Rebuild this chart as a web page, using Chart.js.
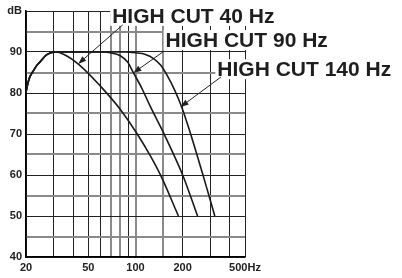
<!DOCTYPE html>
<html>
<head>
<meta charset="utf-8">
<script src="https://cdn.jsdelivr.net/npm/chart.js@4.4.0/dist/chart.umd.min.js"></script>
<style>
  html, body { margin: 0; padding: 0; background: #fff; }
</style>
</head>
<body>
<canvas id="chart" width="402" height="278"></canvas>
<script>
// ------------------ data (Hz / dB) ------------------
// rising part shared by all three curves
var riseFreq = [20, 20.6, 21.2, 22.2, 23.5, 24.6, 27, 30.7];
var riseDb = [80.2, 82.5, 84, 85.3, 86.8, 87.6, 89.3, 90];

var cut40Freq = [35, 44.3, 59.3, 80, 102.6, 124.7, 144.8, 188];
var cut40Db = [89.4, 86.7, 81.8, 76, 70, 64.6, 59.9, 50];

var cut90Freq = [50, 62.2, 71.2, 80, 88.8, 97.1, 109.6, 124.7, 151.3, 200, 249];
var cut90Db = [90, 90, 89.7, 89.1, 87.6, 84.9, 81.2, 76.6, 70.2, 60, 50];

var cut140Freq = [50, 86.2, 99.9, 115.8, 130.4, 144.6, 160.2, 177.8, 197.1, 218.5, 242.4, 268.7, 293.6, 320.8];
var cut140Db = [90, 90, 89.8, 89.4, 88.4, 86.8, 84.1, 80.7, 76.6, 71.5, 65.9, 60.2, 55.1, 50];

// axis ticks
var freqTicks = [20, 30, 40, 50, 60, 70, 80, 90, 100, 150, 200, 300, 400, 500];
var freqLabels = { 20: '20', 50: '50', 100: '100', 200: '200', 500: '500Hz' };
var dbTicks = [40, 45, 50, 55, 60, 65, 70, 75, 80, 85, 90, 95, 100];

// labels + arrows, placed in Hz / dB
var noteText = ['HIGH CUT 40 Hz', 'HIGH CUT 90 Hz', 'HIGH CUT 140 Hz'];
var noteAt = [[71, 97.1], [155.7, 91.2], [333, 84.1]];
var arrowFrom = [[82.8, 96.6], [149.5, 90], [351, 83.9]];
var arrowTo = [[43.1, 87.1], [97, 84.9], [194, 76.6]];

// ----------------------------------------------------
function points(fs, ds) {
  var f = riseFreq.concat(fs), d = riseDb.concat(ds);
  return f.map(function (v, i) { return { x: v, y: d[i] }; });
}

function curve(fs, ds) {
  return {
    data: points(fs, ds),
    borderColor: '#1a1a1a',
    borderWidth: 1.6,
    pointRadius: 0,
    fill: false,
    cubicInterpolationMode: 'monotone'
  };
}

var faintX = [70, 80, 100, 150];

var notes = {
  id: 'notes',
  afterDraw: function (chart) {
    var ctx = chart.ctx, xs = chart.scales.x, ys = chart.scales.y;
    ctx.save();
    ctx.font = 'bold 21px "Liberation Sans", Arial, sans-serif';
    ctx.textBaseline = 'alphabetic';

    // white boxes hide the grid behind the text
    noteText.forEach(function (t, i) {
      var x = xs.getPixelForValue(noteAt[i][0]), y = ys.getPixelForValue(noteAt[i][1]);
      var w = ctx.measureText(t).width;
      ctx.fillStyle = '#fff';
      ctx.fillRect(x - 2, y - 17, w + 4, 20);
    });

    // arrows
    ctx.strokeStyle = '#222';
    ctx.fillStyle = '#222';
    ctx.lineWidth = 1;
    arrowFrom.forEach(function (a, i) {
      var x0 = xs.getPixelForValue(a[0]), y0 = ys.getPixelForValue(a[1]);
      var x1 = xs.getPixelForValue(arrowTo[i][0]), y1 = ys.getPixelForValue(arrowTo[i][1]);
      var ang = Math.atan2(y1 - y0, x1 - x0);
      var c = Math.cos(ang), s = Math.sin(ang);
      ctx.beginPath();
      ctx.moveTo(x0, y0);
      ctx.lineTo(x1 - 6 * c, y1 - 6 * s);
      ctx.stroke();
      ctx.beginPath();
      ctx.moveTo(x1, y1);
      ctx.lineTo(x1 - 8 * c + 3 * s, y1 - 8 * s - 3 * c);
      ctx.lineTo(x1 - 8 * c - 3 * s, y1 - 8 * s + 3 * c);
      ctx.closePath();
      ctx.fill();
    });

    ctx.fillStyle = '#1e1e1e';
    noteText.forEach(function (t, i) {
      ctx.fillText(t, xs.getPixelForValue(noteAt[i][0]), ys.getPixelForValue(noteAt[i][1]));
    });
    ctx.restore();
  }
};

var tickFont = { family: '"Liberation Sans", Arial, sans-serif', size: 11, weight: 'bold' };

new Chart(document.getElementById('chart'), {
  type: 'line',
  data: {
    datasets: [
      curve(cut40Freq, cut40Db),
      curve(cut90Freq, cut90Db),
      curve(cut140Freq, cut140Db)
    ]
  },
  options: {
    responsive: false,
    animation: false,
    layout: { padding: { left: 0, top: 11, right: 157, bottom: 0 } },
    plugins: { legend: { display: false }, tooltip: { enabled: false } },
    scales: {
      x: {
        type: 'logarithmic',
        min: 20,
        max: 500,
        afterBuildTicks: function (scale) {
          scale.ticks = freqTicks.map(function (v) { return { value: v }; });
        },
        afterFit: function (scale) { scale.height = 21; },
        border: { color: '#000', width: 1.5 },
        grid: {
          drawTicks: false,
          color: function (ctx) {
            return faintX.indexOf(ctx.tick && ctx.tick.value) >= 0 ? '#8a8a8a' : '#222';
          },
          lineWidth: function (ctx) {
            return faintX.indexOf(ctx.tick && ctx.tick.value) >= 0 ? 2 : 1;
          }
        },
        ticks: {
          autoSkip: false,
          maxRotation: 0,
          minRotation: 0,
          padding: 4,
          color: '#222',
          font: tickFont,
          callback: function (v) { return freqLabels[v] || ''; }
        }
      },
      y: {
        min: 40,
        max: 100,
        afterBuildTicks: function (scale) {
          scale.ticks = dbTicks.map(function (v) { return { value: v }; });
        },
        afterFit: function (scale) { scale.width = 26; },
        border: { color: '#000', width: 1.5 },
        grid: {
          drawTicks: false,
          color: function (ctx) {
            return ctx.tick && ctx.tick.value % 10 === 0 ? '#222' : '#8a8a8a';
          },
          lineWidth: function (ctx) {
            return ctx.tick && ctx.tick.value % 10 === 0 ? 1 : 2;
          }
        },
        ticks: {
          padding: 4,
          color: '#222',
          font: tickFont,
          callback: function (v) {
            if (v === 100) return 'dB';
            return v % 10 === 0 ? String(v) : '';
          }
        }
      }
    }
  },
  plugins: [notes]
});
</script>
</body>
</html>
